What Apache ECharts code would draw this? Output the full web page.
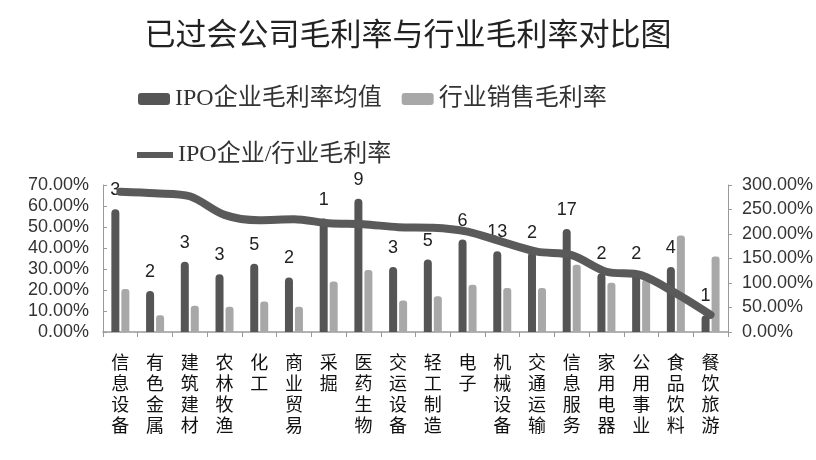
<!DOCTYPE html>
<html>
<head>
<meta charset="utf-8">
<script src="https://cdn.jsdelivr.net/npm/echarts@6/dist/echarts.min.js"></script>
<style>html,body{margin:0;padding:0;background:#fff;}#c{width:816px;height:460px;}</style>
</head>
<body>
<div id="c"></div>
<script>
var categories = ['信息设备','有色金属','建筑建材','农林牧渔','化工','商业贸易','采掘','医药生物','交运设备','轻工制造','电子','机械设备','交通运输','信息服务','家用电器','公用事业','食品饮料','餐饮旅游'];
var ipoMargin = [58.5,19.5,33.5,27.5,32.5,26,54,63.5,31,34.5,44,38.5,38,49,28,28,31,8];
var industryMargin = [20.5,8,12.5,12,14.5,12,24,29.5,15,17,22.5,21,21,32,23.5,25,46,36];
var ratio = [286,283,277,239,228,230,222,220,214,213,205,184,164,157,123,116,79,35];
var ipoCount = [3,2,3,3,5,2,1,9,3,5,6,13,2,17,2,2,4,1];
var leftTicks = [0,10,20,30,40,50,60,70];
var rightTicks = [0,50,100,150,200,250,300];

var chart = echarts.init(document.getElementById('c'));
var axisFont = {fontFamily:'Liberation Sans, Noto Sans CJK SC', fontSize:18, color:'#333'};
chart.setOption({
  backgroundColor:'#ffffff',
  animation:false,
  title:{text:'已过会公司毛利率与行业毛利率对比图', left:'center', top:13,
    textStyle:{fontFamily:'Noto Sans CJK SC', fontSize:31, fontWeight:'normal', color:'#222'}},
  legend:[
    {data:['IPO企业毛利率均值','行业销售毛利率'], left:133, top:82, itemWidth:32, itemHeight:12, itemGap:20,
      textStyle:{fontFamily:'Liberation Serif, Noto Sans CJK SC', fontSize:24, color:'#333'}},
    {data:[{name:'IPO企业/行业毛利率', icon:'rect'}], left:132, top:138, itemWidth:36, itemHeight:6,
      textStyle:{fontFamily:'Liberation Serif, Noto Sans CJK SC', fontSize:24, color:'#333'}}
  ],
  grid:{left:103, right:76, top:185, bottom:128},
  xAxis:{type:'category', data:categories,
    axisLine:{lineStyle:{color:'#999', width:1.5}},
    axisTick:{show:true, length:5, lineStyle:{color:'#999'}},
    axisLabel:{interval:0, margin:20, fontFamily:'Noto Sans CJK SC', fontSize:18, lineHeight:21, color:'#111',
      formatter:function(v){return v.split('').join('\n');}}},
  yAxis:[
    {type:'value', min:0, max:70, interval:10, position:'left',
      axisLine:{show:true, lineStyle:{color:'#999'}}, axisTick:{show:true, length:4, inside:true, lineStyle:{color:'#999'}},
      splitLine:{show:false},
      axisLabel:Object.assign({margin:14, formatter:function(v){return leftTicks.indexOf(v)>=0 ? v.toFixed(2)+'%' : '';}}, axisFont)},
    {type:'value', min:0, max:300, interval:50, position:'right',
      axisLine:{show:true, lineStyle:{color:'#999'}}, axisTick:{show:true, length:4, lineStyle:{color:'#999'}},
      splitLine:{show:false},
      axisLabel:Object.assign({margin:14, formatter:function(v){return rightTicks.indexOf(v)>=0 ? v.toFixed(2)+'%' : '';}}, axisFont)}
  ],
  series:[
    {name:'IPO企业毛利率均值', type:'bar', yAxisIndex:0, data:ipoMargin, barWidth:8, barGap:'25%',
      itemStyle:{color:'#555555', borderRadius:[4,4,0,0]},
      label:{show:true, position:'top', distance:10, fontFamily:'Liberation Sans', fontSize:18, color:'#222',
        formatter:function(p){return ipoCount[p.dataIndex];}}},
    {name:'行业销售毛利率', type:'bar', yAxisIndex:0, data:industryMargin, barWidth:8,
      itemStyle:{color:'#a8a8a8', borderRadius:[3,3,0,0]}},
    {name:'IPO企业/行业毛利率', type:'line', yAxisIndex:1, data:ratio, smooth:0.3, showSymbol:false, symbol:'none',
      z:5, lineStyle:{color:'#5a5a5a', width:8, cap:'round', join:'round'}, itemStyle:{color:'#5a5a5a'}}
  ]
});
</script>
</body>
</html>
